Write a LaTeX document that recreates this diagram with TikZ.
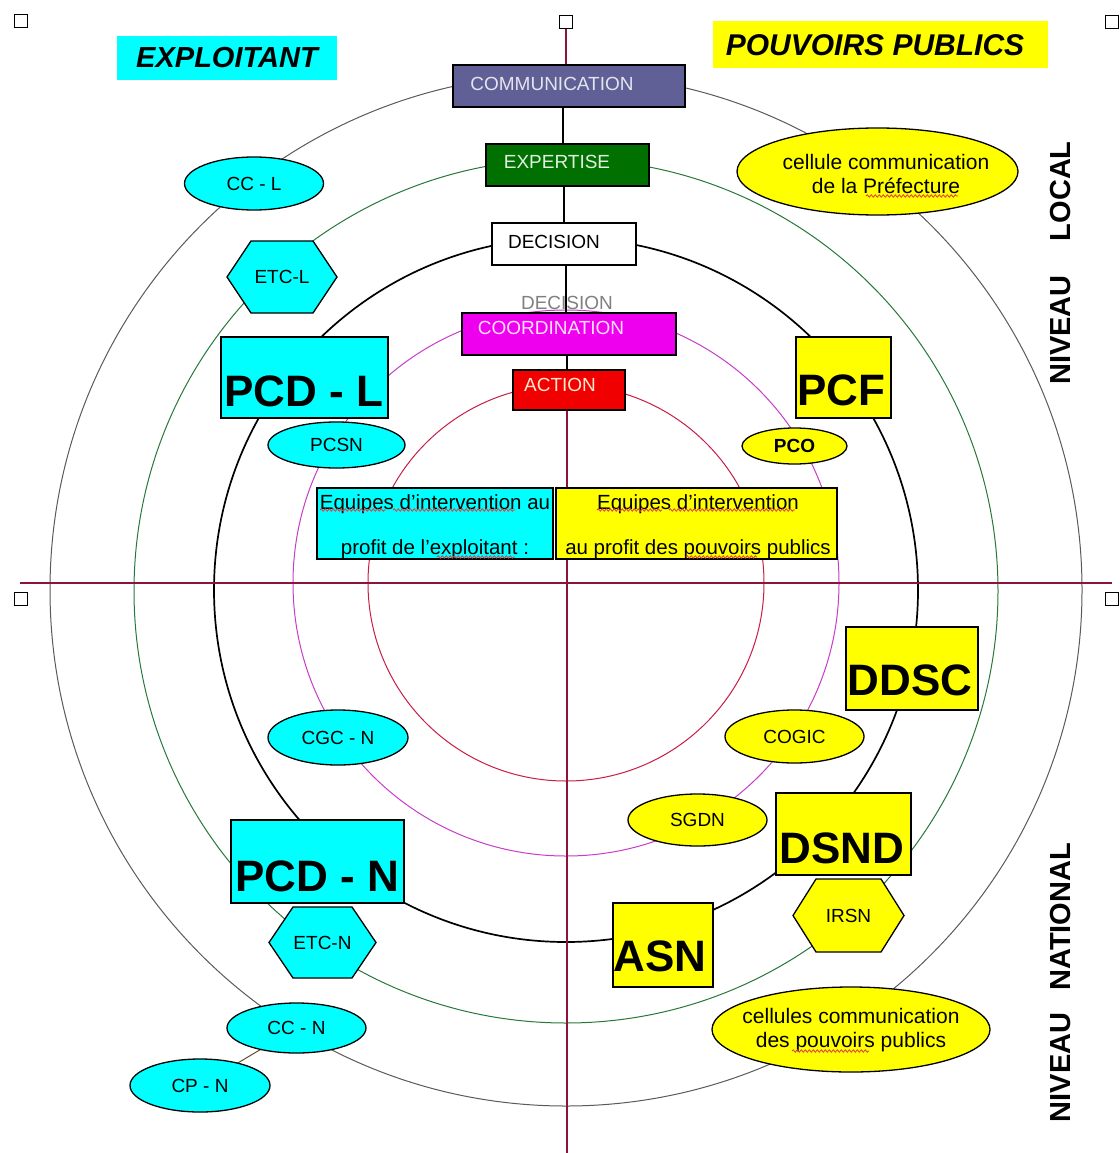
\documentclass[tikz,border=0pt]{standalone}
\usepackage{fontspec}
\setmainfont{Liberation Sans}
\usetikzlibrary{shapes.geometric,calc,backgrounds,decorations.pathmorphing}
\definecolor{cyanF}{RGB}{0,255,255}
\definecolor{yellowF}{RGB}{255,255,0}
\definecolor{commF}{RGB}{96,96,150}
\definecolor{expF}{RGB}{0,112,0}
\definecolor{coordF}{RGB}{238,0,238}
\definecolor{actF}{RGB}{240,0,0}
\definecolor{axisC}{RGB}{140,20,60}
\definecolor{outerC}{RGB}{90,90,90}
\definecolor{greenC}{RGB}{40,120,60}
\definecolor{magC}{RGB}{200,60,200}
\definecolor{redC}{RGB}{200,30,70}
\definecolor{grayT}{RGB}{128,128,128}
\definecolor{linkC}{RGB}{100,80,40}
\definecolor{spellC}{RGB}{225,60,70}
\newcommand\hexnode[7]{%
  \coordinate (#1) at #2;
  \draw[line width=1.3pt, fill=#6] ($(#1)+(-#3,0)$) -- ($(#1)+(-#4,-#5)$) -- ($(#1)+(#4,-#5)$) -- ($(#1)+(#3,0)$) -- ($(#1)+(#4,#5)$) -- ($(#1)+(-#4,#5)$) -- cycle;
  \node[htext] (#1-t) at (#1) {#7};}
\begin{document}
\begin{tikzpicture}[x=1pt,y=-1pt,
  every node/.style={inner sep=0pt, outer sep=0pt},
  hdr/.style={rectangle, draw=black, line width=1.8pt},
  htext/.style={font=\fontsize{19}{22}\selectfont},
  bigtext/.style={font=\bfseries\fontsize{44}{50}\selectfont},
  bigbox/.style={rectangle, draw=black, line width=1.8pt},
  ell/.style={ellipse, draw=black, line width=1.3pt, font=\fontsize{19}{22}\selectfont},
  celltext/.style={align=center, font=\fontsize{21}{24}\selectfont},
  handle/.style={rectangle, draw=black, fill=white, line width=1.2pt, minimum size=13pt},
  ring/.style={line width=1pt},
  eqbox/.style={rectangle, draw=black, line width=1.6pt, minimum height=71},
  eqtext/.style={align=center, font=\fontsize{20.5}{45}\selectfont},
  niveau/.style={rotate=90, font=\bfseries\fontsize{29}{32}\selectfont},
  spell/.style={spellC, line width=0.8pt, decorate, decoration={snake, amplitude=1.2pt, segment length=4pt}},
]
\useasboundingbox (0,0) rectangle (1119,1153);

% selection handles
\node[handle] (hTL) at (21,21) {};
\node[handle] (hTM) at (566,22) {};
\node[handle] (hTR) at (1112,22) {};
\node[handle] (hML) at (21,599) {};
\node[handle] (hMR) at (1112,599) {};

% headings
\node[fill=cyanF, minimum width=220, minimum height=44, font=\bfseries\itshape\fontsize{29}{32}\selectfont] (exploitant) at (227,58) {EXPLOITANT};
\node[fill=yellowF, minimum width=335, minimum height=47, font=\bfseries\itshape\fontsize{30}{32}\selectfont] (pouvoirs) at (880,45) {\hspace{-10pt}POUVOIRS PUBLICS};

% central stack
\node[hdr, fill=commF, minimum width=232, minimum height=42] (comm) at (569,86) {};
\node[htext, text={rgb,255:red,228;green,228;blue,238}] (commT) at (552,84) {COMMUNICATION};
\node[hdr, fill=expF, minimum width=163, minimum height=42] (exp) at (567.5,165) {};
\node[htext, text={rgb,255:red,225;green,240;blue,225}] (expT) at (557,162) {EXPERTISE};
\node[hdr, fill=white, minimum width=144, minimum height=42] (dec) at (564,244) {};
\node[htext] (decT) at (554,242) {DECISION};
\node[htext, text=grayT] (decG) at (567,303) {DECISION};
\node[hdr, fill=coordF, minimum width=214, minimum height=42] (coord) at (569,334) {};
\node[htext, text={rgb,255:red,255;green,225;blue,255}] (coordT) at (551,328) {COORDINATION};
\node[hdr, fill=actF, minimum width=112, minimum height=40] (act) at (569,390) {};
\node[htext, text={rgb,255:red,255;green,232;blue,205}] (actT) at (560,385) {ACTION};

% exploitant side
\node[ell, fill=cyanF, minimum width=139, minimum height=53] (ccl) at (254,183.5) {CC - L};
\hexnode{etcl}{(282,277)}{55}{31}{36}{cyanF}{ETC-L}
\node[bigbox, fill=cyanF, minimum width=167, minimum height=81] (pcdl) at (304.5,377.5) {};
\node[bigtext] (pcdlT) at (304,391) {PCD - L};
\node[ell, fill=cyanF, minimum width=137, minimum height=46] (pcsn) at (336.5,445) {PCSN};
\node[ell, fill=cyanF, minimum width=140, minimum height=55] (cgcn) at (338,737.5) {CGC - N};
\node[bigbox, fill=cyanF, minimum width=173, minimum height=83] (pcdn) at (317.5,861.5) {};
\node[bigtext] (pcdnT) at (317,876) {PCD - N};
\hexnode{etcn}{(322.5,942.5)}{53.5}{29.5}{35.5}{cyanF}{ETC-N}
\node[ell, fill=cyanF, minimum width=139, minimum height=50] (ccn) at (296.5,1028) {CC - N};
\node[ell, fill=cyanF, minimum width=140, minimum height=53] (cpn) at (200,1085.5) {CP - N};

% pouvoirs publics side
\node[ell, fill=yellowF, minimum width=281, minimum height=87] (cpref) at (877.5,171.5) {};
\node[celltext] (cprefT) at (886,174) {cellule communication\\de la Préfecture};
\node[bigbox, fill=yellowF, minimum width=95, minimum height=81] (pcf) at (843.5,377.5) {};
\node[bigtext] (pcfT) at (841,390) {PCF};
\node[ell, fill=yellowF, minimum width=105, minimum height=36, font=\bfseries\fontsize{19}{22}\selectfont] (pco) at (794.5,446) {PCO};
\node[bigbox, fill=yellowF, minimum width=132, minimum height=83] (ddsc) at (912,668.5) {};
\node[bigtext] (ddscT) at (910,680) {DDSC};
\node[ell, fill=yellowF, minimum width=139, minimum height=53] (cogic) at (794.5,736.5) {COGIC};
\node[ell, fill=yellowF, minimum width=139, minimum height=52] (sgdn) at (697.5,820) {SGDN};
\node[bigbox, fill=yellowF, minimum width=135, minimum height=82] (dsnd) at (843.5,834) {};
\node[bigtext] (dsndT) at (842,848) {DSND};
\hexnode{irsn}{(848.5,915.5)}{55.5}{32.5}{36.5}{yellowF}{IRSN}
\node[bigbox, fill=yellowF, minimum width=100, minimum height=84] (asn) at (663,945) {};
\node[bigtext] (asnT) at (660,956) {ASN};
\node[ell, fill=yellowF, minimum width=278, minimum height=85] (cpp) at (851,1029.5) {};
\node[celltext] (cppT) at (851,1030) {cellules communication\\des pouvoirs publics};

% equipes
\node[eqbox, fill=cyanF, minimum width=236] (eqx) at (435,523.5) {};
\node[eqtext] (eqxT) at (435,526.5) {Equipes d'intervention au\\profit de l'exploitant :};
\node[eqbox, fill=yellowF, minimum width=281] (eqp) at (696.5,523.5) {};
\node[eqtext] (eqpT) at (698,526.5) {Equipes d'intervention\\au profit des pouvoirs publics};

% spell-check underlines
\draw[spell] (320,510) -- (386,510);
\draw[spell] (393,510) -- (515,510);
\draw[spell] (437,557) -- (515,557);
\draw[spell] (597,510) -- (662,510);
\draw[spell] (669,510) -- (795,510);
\draw[spell] (686,557) -- (757,557);
\draw[spell] (866,196) -- (958,196);
\draw[spell] (792,1051) -- (869,1051);

% niveaux
\node[niveau] (nivL) at (1061,263) {NIVEAU\hspace{34pt}LOCAL};
\node[niveau] (nivN) at (1061,982.5) {NIVEAU\hspace{22pt}NATIONAL};

% axes and rings
\coordinate (axL) at (20,583);
\coordinate (axR) at (1112,583);
\coordinate (vBot) at (567,1153);
\begin{scope}[on background layer]
  \fill[white] (0,0) rectangle (1119,1153);
  \draw[outerC, ring] (566,590) circle[radius=516];
  \draw[greenC, ring] (566,591) circle[radius=432];
  \draw[black, line width=1.7pt] (566,590) circle[radius=352];
  \draw[magC, ring] (566,583) circle[radius=273];
  \draw[redC, ring] (566,583) circle[radius=198];
  \draw[axisC, line width=1.3pt] (axL) -- (axR);
  \draw[axisC, line width=1.3pt] (hTM) -- (comm.north -| hTM);
  \draw[black, line width=1.5pt] (comm.south -| 563,0) -- (exp.north -| 563,0);
  \draw[black, line width=1.5pt] (exp.south -| 564,0) -- (dec.north -| 564,0);
  \draw[black, line width=1.5pt] (dec.south -| 566,0) -- (coord.north -| 566,0);
  \draw[black, line width=1.5pt] (coord.south -| 567,0) -- (act.north -| 567,0);
  \draw[axisC, line width=1.3pt] (act.south -| vBot) -- (vBot);
  \draw[linkC, line width=1pt] (ccn) -- (cpn);
\end{scope}
\end{tikzpicture}
\end{document}
